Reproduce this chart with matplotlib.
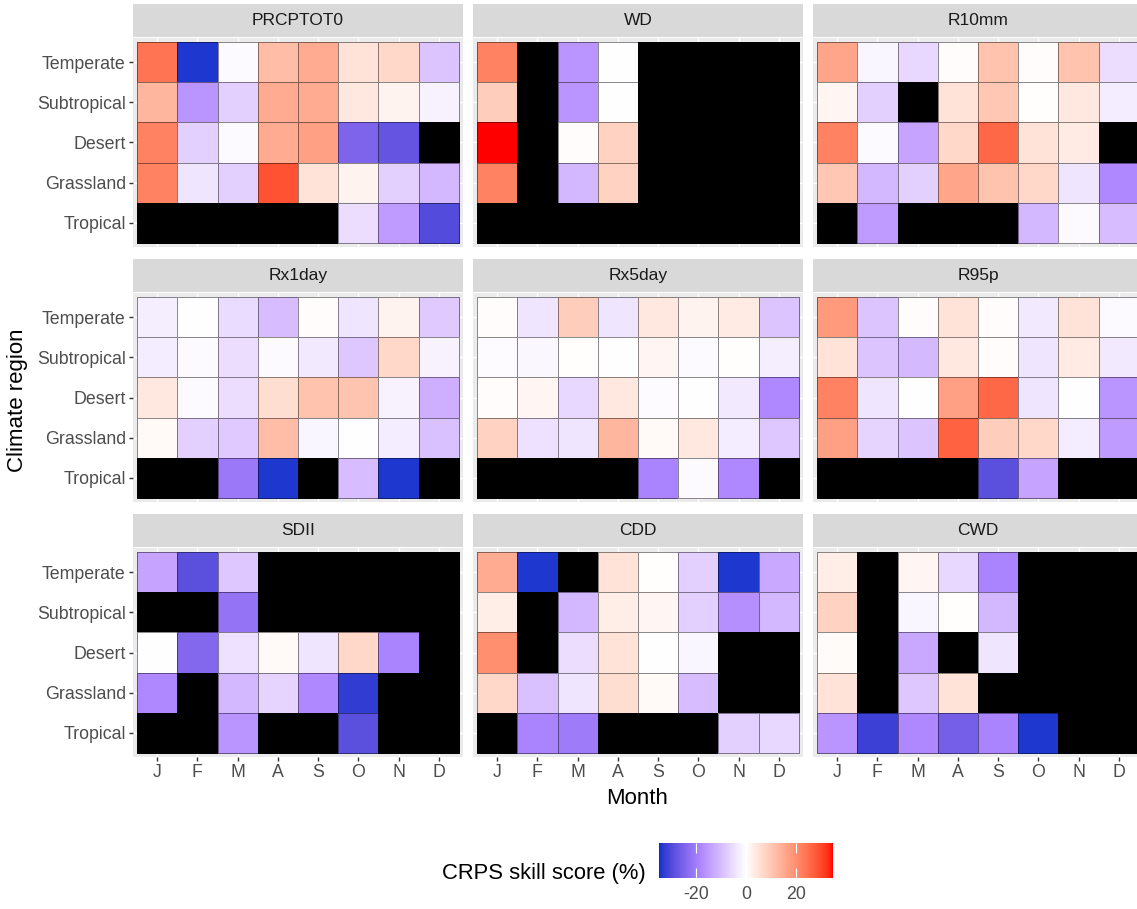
import numpy as np
import matplotlib.pyplot as plt
from matplotlib.colors import ListedColormap, Normalize, to_rgb

plt.rcParams['font.family'] = ['Liberation Sans', 'DejaVu Sans']

months = ['J', 'F', 'M', 'A', 'S', 'O', 'N', 'D']
regions = ['Temperate', 'Subtropical', 'Desert', 'Grassland', 'Tropical']
na = np.nan

# CRPS skill score (%) per region (rows) and month (cols), nan = no data
prcptot0 = [[24, -34, -1, 12, 15, 5, 7, -9],
            [13, -16, -7, 15, 15, 4, 2, -2],
            [22, -7, -1, 15, 17, -25, -28, na],
            [22, -4, -7, 29, 5, 2, -7, -11],
            [na, na, na, na, na, -5, -15, -30]]
wd = [[22, na, -16, -0.5, na, na, na, na],
      [9, na, -16, -0.5, na, na, na, na],
      [35, na, 0.5, 8, na, na, na, na],
      [22, na, -11, 8, na, na, na, na],
      [na, na, na, na, na, na, na, na]]
r10mm = [[16, -1.5, -6, 0.5, 11, 0.3, 11, -5],
         [1.5, -7, na, 5, 10, 0.2, 4, -3],
         [22, -1, -14, 7, 26, 5, 3.5, na],
         [10, -11, -7, 16, 11, 7, -4, -18],
         [na, -15, na, na, na, -11, -1, -10]]
rx1day = [[-2.5, -0.5, -5.5, -10, 0.3, -4, 2, -8],
          [-3, -1, -5, -1, -3.5, -8.5, 7, -2],
          [4, -1, -5, 6, 11, 10.5, -2, -12],
          [1, -7, -8, 12, -1.5, -0.3, -3, -9.5],
          [na, na, -21, -34, na, -10, -34, na]]
rx5day = [[0.5, -4, 9, -4, 4, 2, 3.5, -9],
          [-0.7, -1.2, 0.2, -0.3, 1.5, -1, 0.2, -2.5],
          [0.5, 1.5, -6, 4, -0.7, -0.3, -3.5, -18],
          [8, -4.5, -4, 13, 1, 4, -3, -8.5],
          [na, na, na, na, -19, -1, -18, na]]
r95p = [[18, -9, 0.5, 5, 0.5, -3.5, 5, -1],
        [5, -9, -10.5, 4, 0.3, -4, 3.5, -3.5],
        [22, -4, -0.3, 17, 26, -4, -0.5, -16],
        [17, -6.5, -9, 27, 9, 7, -3, -15],
        [na, na, na, na, -29, -14, na, na]]
sdii = [[-14, -29, -8.5, na, na, na, na, na],
        [na, na, -22, na, na, na, na, na],
        [-0.3, -24, -4.5, 1, -4, 7, -19, na],
        [-18, na, -11, -6.5, -18, -33, na, na],
        [na, na, -16, na, na, -29, na, na]]
cdd = [[15, -34, na, 5, 0.2, -7, -34, -13],
       [3, na, -11, 3, 1.5, -7, -17, -11],
       [20, na, -5, 5, -0.5, -1.5, na, na],
       [7, -9.5, -4, 6, 1, -10, na, na],
       [na, -19, -20.5, na, na, na, -7, -6]]
cwd = [[3, na, 1.5, -6, -19, na, na, na],
       [8, na, -1.5, 0.2, -11, na, na, na],
       [0.7, na, -13, na, -4, na, na, na],
       [5, na, -8.5, 5, na, na, na, na],
       [-16, -32, -18, -26, -19, -34, na, na]]

index_names = ['PRCPTOT0', 'WD', 'R10mm', 'Rx1day', 'Rx5day', 'R95p', 'SDII', 'CDD', 'CWD']
index_values = [prcptot0, wd, r10mm, rx1day, rx5day, r95p, sdii, cdd, cwd]

M = np.array([[0.4124, 0.3576, 0.1805], [0.2126, 0.7152, 0.0722], [0.0193, 0.1192, 0.9505]])
WP = np.array([0.95047, 1.0, 1.08883])


def to_lab(rgb):
    rgb = np.atleast_2d(rgb)
    lin = np.where(rgb <= 0.04045, rgb / 12.92, ((rgb + 0.055) / 1.055) ** 2.4)
    xyz = lin @ M.T / WP
    d = 6 / 29
    f = np.where(xyz > d ** 3, np.cbrt(xyz), xyz / (3 * d ** 2) + 4 / 29)
    return np.stack([116 * f[:, 1] - 16, 500 * (f[:, 0] - f[:, 1]), 200 * (f[:, 1] - f[:, 2])], axis=1)


def from_lab(lab):
    d = 6 / 29
    fy = (lab[:, 0] + 16) / 116
    f = np.stack([fy + lab[:, 1] / 500, fy, fy - lab[:, 2] / 200], axis=1)
    xyz = np.where(f > d, f ** 3, 3 * d ** 2 * (f - 4 / 29)) * WP
    lin = np.clip(xyz @ np.linalg.inv(M).T, 0, 1)
    rgb = np.where(lin <= 0.0031308, 12.92 * lin, 1.055 * lin ** (1 / 2.4) - 0.055)
    return np.clip(rgb, 0, 1)


# diverging gradient interpolated in Lab (blue - white - red)
deep = to_lab(to_rgb('#0033CC'))[0]
blue = to_lab(to_rgb('blue'))[0]
white = to_lab(to_rgb('white'))[0]
red = to_lab(to_rgb('red'))[0]
half = (blue + white) / 2
t = np.linspace(0, 1, 64)[:, None]
lab_cols = np.vstack([deep + (half - deep) * t,
                      half + (white - half) * t[1:],
                      white + (red - white) * np.linspace(0, 1, 128)[1:, None]])
cmap = ListedColormap(from_lab(lab_cols)).with_extremes(bad='black')
norm = Normalize(-35, 35)

W, H = 1137, 909
fig = plt.figure(figsize=(W / 100, H / 100), dpi=100)

col_x = [133, 473, 813]
row_y = [38, 293, 548]
pw, ph = 330, 209
strip_h = 33

mesh = None
for k, (name, vals) in enumerate(zip(index_names, index_values)):
    r, c = divmod(k, 3)
    x0, y0 = col_x[c], row_y[r]
    ax = fig.add_axes([x0 / W, 1 - (y0 + ph) / H, pw / W, ph / H])
    ax.set_facecolor('#EBEBEB')
    z = np.ma.masked_invalid(np.array(vals, dtype=float))
    mesh = ax.pcolormesh(np.arange(9) - 0.5, np.arange(6) - 0.5, z, cmap=cmap, norm=norm,
                         edgecolors=(0, 0, 0, 0.45), linewidth=0.5)
    ax.set_xlim(-0.6, 7.6)
    ax.set_ylim(4.6, -0.6)
    ax.set_xticks(range(8))
    ax.set_yticks(range(5))
    ax.grid(True, color='white', lw=1)
    ax.set_axisbelow(True)
    for s in ax.spines.values():
        s.set_visible(False)
    ax.tick_params(length=3.2, width=1, color='#333333', labelsize=12.8, labelcolor='#4D4D4D', pad=2)
    if r == 2:
        ax.set_xticklabels(months)
    else:
        ax.tick_params(axis='x', length=0, labelbottom=False)
    if c == 0:
        ax.set_yticklabels(regions)
    else:
        ax.tick_params(axis='y', length=0, labelleft=False)

    sax = fig.add_axes([x0 / W, 1 - (y0 - 1) / H, pw / W, strip_h / H])
    sax.set_facecolor('#D9D9D9')
    sax.set_xticks([])
    sax.set_yticks([])
    for s in sax.spines.values():
        s.set_visible(False)
    sax.text(0.5, 0.5, name, ha='center', va='center', fontsize=12.5, color='#1A1A1A',
             transform=sax.transAxes)

fig.text(18 / W, 1 - 400 / H, 'Climate region', rotation=90, ha='center', va='center', fontsize=16)
fig.text(637 / W, 1 - 798 / H, 'Month', ha='center', va='center', fontsize=16)

cax = fig.add_axes([659 / W, 1 - 878 / H, 174 / W, 35 / H])
cb = fig.colorbar(mesh, cax=cax, orientation='horizontal', ticks=[-20, 0, 20])
cb.outline.set_visible(False)
cax.tick_params(direction='in', color='white', length=7, width=0.8, top=True, bottom=True,
                labelsize=12.8, labelcolor='#4D4D4D', pad=6)
cax.set_xticklabels(['-20', '0', '20'])
fig.text(646 / W, 1 - 874 / H, 'CRPS skill score (%)', ha='right', va='center', fontsize=15.8)

fig.savefig('out.png', dpi=100)
